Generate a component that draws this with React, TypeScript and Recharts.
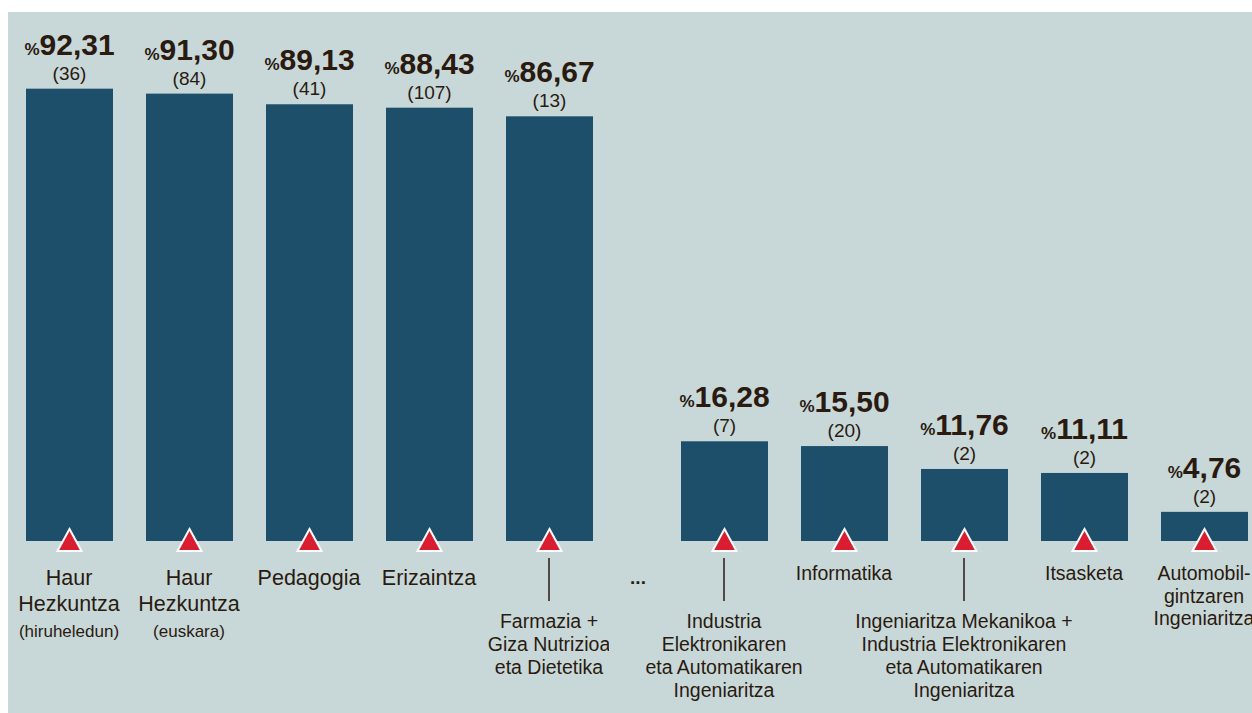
import { BarChart, Bar, XAxis, YAxis, LabelList } from 'recharts';

const LEFT_CATEGORIES = [
  'Haur\nHezkuntza\n(hiruheledun)',
  'Haur\nHezkuntza\n(euskara)',
  'Pedagogia',
  'Erizaintza',
  'Farmazia +\nGiza Nutrizioa\neta Dietetika',
];
const LEFT_RATES = [92.31, 91.3, 89.13, 88.43, 86.67];
const LEFT_COUNTS = [36, 84, 41, 107, 13];

const RIGHT_CATEGORIES = [
  'Industria\nElektronikaren\neta Automatikaren\nIngeniaritza',
  'Informatika',
  'Ingeniaritza Mekanikoa +\nIndustria Elektronikaren\neta Automatikaren\nIngeniaritza',
  'Itsasketa',
  'Automobil-\ngintzaren\nIngeniaritza',
];
const RIGHT_RATES = [16.28, 15.5, 11.76, 11.11, 4.76];
const RIGHT_COUNTS = [7, 20, 2, 2, 2];

// labels hung below a leader line
const LEADERED = new Set([LEFT_CATEGORIES[4], RIGHT_CATEGORIES[0], RIGHT_CATEGORIES[2]]);

const BG = '#c8d8d9';
const BAR = '#1d4f6b';
const RED = '#d81e30';
const INK = '#2a1a0f';
const FONT = '"Liberation Sans", Arial, sans-serif';

type Row = { name: string; rate: number; count: number };

const toRows = (names: string[], rates: number[], counts: number[]): Row[] =>
  names.map((name, i) => ({ name, rate: rates[i], count: counts[i] }));

const BarWithMarker = (props: any) => {
  const { x, y, width, height } = props;
  const cx = x + width / 2;
  const bottom = y + height;
  return (
    <g>
      <rect x={x} y={y} width={width} height={height} fill={BAR} />
      <path
        d={`M${cx},${bottom - 12} L${cx + 12},${bottom + 10} L${cx - 12},${bottom + 10} Z`}
        fill={RED}
        stroke="#fff"
        strokeWidth={2}
      />
    </g>
  );
};

const ValueLabel = (props: any) => {
  const { x, y, width, index, rows } = props;
  const cx = x + width / 2;
  const row: Row = rows[index];
  return (
    <g fontFamily={FONT} fill={INK}>
      <text x={cx} y={y - 34} textAnchor="middle" fontWeight={700}>
        <tspan fontSize={17}>%</tspan>
        <tspan fontSize={30}>{row.rate.toFixed(2).replace('.', ',')}</tspan>
      </text>
      <text x={cx} y={y - 9} textAnchor="middle" fontSize={19}>
        ({row.count})
      </text>
    </g>
  );
};

const CategoryTick = (props: any) => {
  const { x, y, payload, first, gap, size } = props;
  const name: string = payload.value;
  const lines = name.split('\n');
  const leader = LEADERED.has(name);
  const start = leader ? 87 : first;
  const step = leader ? 23 : gap;
  return (
    <g fontFamily={FONT} fill={INK}>
      {leader && (
        <line x1={x} x2={x} y1={y + 17} y2={y + 60} stroke={INK} strokeWidth={1.5} />
      )}
      <text textAnchor="middle">
        {lines.map((line, i) => (
          <tspan
            key={i}
            x={x}
            y={y + start + i * step}
            fontSize={line.startsWith('(') ? 17 : leader ? 19.5 : size}
          >
            {line}
          </tspan>
        ))}
      </text>
    </g>
  );
};

function Group({ rows, max, left, pad, first, gap, size }: any) {
  return (
    <div style={{ position: 'absolute', left: left - pad, top: 0 }}>
      <BarChart
        width={600 + pad}
        height={701}
        data={rows}
        margin={{ top: 39, right: 0, left: pad, bottom: 0 }}
        barSize={87}
      >
        <XAxis
          dataKey="name"
          height={172}
          axisLine={false}
          tickLine={false}
          tickSize={0}
          tickMargin={0}
          interval={0}
          tick={(p: any) => <CategoryTick {...p} first={first} gap={gap} size={size} />}
        />
        <YAxis hide domain={[0, max]} />
        <Bar dataKey="rate" isAnimationActive={false} shape={BarWithMarker}>
          <LabelList dataKey="rate" content={(p: any) => <ValueLabel {...p} rows={rows} />} />
        </Bar>
      </BarChart>
    </div>
  );
}

export default function App() {
  const leftRows = toRows(LEFT_CATEGORIES, LEFT_RATES, LEFT_COUNTS);
  const rightRows = toRows(RIGHT_CATEGORIES, RIGHT_RATES, RIGHT_COUNTS);
  return (
    <>
      <style>{'body{margin:0;overflow:hidden}'}</style>
      <div
        style={{
          position: 'absolute',
          left: 8,
          top: 12,
          width: 1244,
          height: 701,
          background: BG,
          overflow: 'hidden',
        }}
      >
        <Group rows={leftRows} max={100} left={0.5} pad={0} first={44} gap={26} size={21.5} />
        <Group rows={rightRows} max={80} left={655.5} pad={40} first={39} gap={22.5} size={19.5} />
        <svg
          width={1244}
          height={701}
          style={{ position: 'absolute', left: 0, top: 0, pointerEvents: 'none' }}
        >
          <text x={630} y={572} textAnchor="middle" fontFamily={FONT} fontWeight={700} fontSize={19} fill={INK}>
            ...
          </text>
        </svg>
      </div>
    </>
  );
}
